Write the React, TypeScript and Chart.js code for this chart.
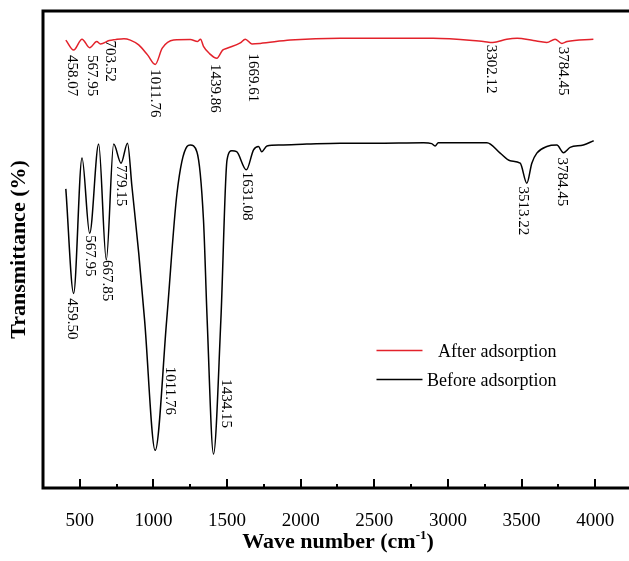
import React, { useEffect, useRef } from "react";
import { Chart, registerables } from "chart.js";

Chart.register(...registerables);

// ---- data ----
const seriesNames = ["After adsorption", "Before adsorption"];
const seriesColors = ["#e3222b", "#000000"];

const wnAfter = [405, 458, 515, 567, 615, 640, 700, 740, 800, 843, 900, 960, 1012, 1060, 1137, 1250, 1300, 1320, 1340, 1380, 1431, 1470, 1500, 1590, 1624, 1669, 1725, 1929, 2268, 2900, 3241, 3305, 3400, 3470, 3580, 3672, 3728, 3774, 3810, 3988];
const tAfter = [93.9, 91.8, 94.1, 92.3, 93.6, 93.1, 93.8, 94.0, 94.2, 93.9, 92.9, 90.8, 88.8, 92.2, 93.9, 94.0, 93.6, 94.1, 92.6, 91.1, 90.1, 91.8, 92.2, 93.3, 94.1, 93.1, 93.2, 93.9, 94.3, 94.3, 93.6, 93.4, 94.1, 94.3, 93.8, 93.4, 94.1, 93.2, 93.6, 94.1];

const wnBefore = [405, 458, 515, 567, 628, 680, 730, 780, 824, 854, 900, 940, 1012, 1090, 1160, 1228, 1250, 1295, 1340, 1365, 1408, 1458, 1500, 1533, 1565, 1631, 1680, 1714, 1735, 1771, 1862, 2042, 2269, 2500, 2835, 2890, 2913, 2935, 3265, 3355, 3423, 3491, 3536, 3570, 3604, 3672, 3740, 3785, 3830, 3920, 3990];
const tBefore = [62.7, 40.8, 69.2, 53.4, 72.1, 47.8, 72.1, 68.1, 72.3, 63.2, 49.3, 35.2, 7.9, 35.2, 61.8, 71.6, 71.9, 70.5, 56.2, 35.2, 7.1, 35.2, 68.8, 70.7, 70.5, 66.7, 70.9, 71.6, 70.5, 71.7, 71.9, 72.1, 72.3, 72.3, 72.4, 72.2, 71.7, 72.4, 72.4, 70.2, 68.6, 68.1, 63.9, 68.1, 70.2, 71.6, 71.9, 70.3, 71.4, 71.9, 72.8];

// peak annotations (text, anchor wavenumber, anchor transmittance)
const afterPeakText = ["458.07", "567.95", "703.52", "1011.76", "1439.86", "1669.61", "3302.12", "3784.45"];
const afterPeakX = [447, 583, 707, 1013, 1420, 1676, 3292, 3778];
const afterPeakY = [90.8, 90.8, 93.8, 87.8, 88.9, 91.1, 92.9, 92.5];

const beforePeakText = ["459.50", "567.95", "667.85", "779.15", "1011.76", "1434.15", "1631.08", "3513.22", "3784.45"];
const beforePeakX = [447, 571, 685, 780, 1114, 1493, 1635, 3513, 3774];
const beforePeakY = [39.8, 53.0, 47.8, 67.7, 25.4, 22.8, 66.3, 63.2, 69.3];

const xTicks = [500, 1000, 1500, 2000, 2500, 3000, 3500, 4000];
const xMinorTicks = [750, 1250, 1750, 2250, 2750, 3250, 3750];
const xMin = 250;
const xMax = 4230;

const xTitle = "Wave number (cm";
const xTitleSup = "-1";
const xTitleEnd = ")";
const yTitle = "Transmittance (%)";

const SERIF = "'Liberation Serif', 'Times New Roman', serif";

const decorPlugin = {
  id: "decor",
  afterDatasetsDraw(chart: any) {
    const ctx = chart.ctx as CanvasRenderingContext2D;
    const area = chart.chartArea;
    const xs = chart.scales.x;
    const ys = chart.scales.y;
    ctx.save();

    // frame: top, left, bottom
    ctx.strokeStyle = "#000";
    ctx.lineWidth = 3;
    ctx.beginPath();
    ctx.moveTo(area.right + 2, area.top);
    ctx.lineTo(area.left, area.top);
    ctx.lineTo(area.left, area.bottom);
    ctx.lineTo(area.right + 2, area.bottom);
    ctx.stroke();

    // inward ticks
    ctx.lineWidth = 2;
    ctx.beginPath();
    xTicks.forEach((v) => {
      const px = Math.round(xs.getPixelForValue(v));
      ctx.moveTo(px, area.bottom);
      ctx.lineTo(px, area.bottom - 9);
    });
    xMinorTicks.forEach((v) => {
      const px = Math.round(xs.getPixelForValue(v));
      ctx.moveTo(px, area.bottom);
      ctx.lineTo(px, area.bottom - 4);
    });
    ctx.stroke();

    // peak annotations
    ctx.fillStyle = "#000";
    ctx.font = `15px ${SERIF}`;
    ctx.textAlign = "left";
    ctx.textBaseline = "middle";
    const drawLabels = (texts: string[], xv: number[], yv: number[]) => {
      texts.forEach((t, i) => {
        const px = xs.getPixelForValue(xv[i]);
        const py = ys.getPixelForValue(yv[i]);
        ctx.save();
        ctx.translate(px, py);
        ctx.rotate(Math.PI / 2);
        ctx.fillText(t, 0, 0);
        ctx.restore();
      });
    };
    drawLabels(afterPeakText, afterPeakX, afterPeakY);
    drawLabels(beforePeakText, beforePeakX, beforePeakY);

    // legend
    const legX = xs.getPixelForValue(2515);
    const legY0 = ys.getPixelForValue(28.8);
    ctx.font = `18px ${SERIF}`;
    ctx.textBaseline = "middle";
    chart.data.datasets.forEach((ds: any, i: number) => {
      const y = legY0 + i * 29;
      ctx.strokeStyle = ds.borderColor;
      ctx.lineWidth = 1.5;
      ctx.beginPath();
      ctx.moveTo(legX, y);
      ctx.lineTo(legX + 46, y);
      ctx.stroke();
      ctx.fillStyle = "#000";
      ctx.textAlign = "right";
      ctx.fillText(ds.label, legX + 180, y + 2);
    });

    // x title with superscript
    ctx.fillStyle = "#000";
    ctx.textAlign = "left";
    ctx.textBaseline = "alphabetic";
    const big = `bold 22px ${SERIF}`;
    const small = `bold 13px ${SERIF}`;
    ctx.font = big;
    const w1 = ctx.measureText(xTitle).width;
    const w3 = ctx.measureText(xTitleEnd).width;
    ctx.font = small;
    const w2 = ctx.measureText(xTitleSup).width;
    const total = w1 + w2 + w3;
    const cx = 338;
    let sx = cx - total / 2;
    const by = 548;
    ctx.font = big;
    ctx.fillText(xTitle, sx, by);
    sx += w1;
    ctx.font = small;
    ctx.fillText(xTitleSup, sx, by - 9);
    sx += w2;
    ctx.font = big;
    ctx.fillText(xTitleEnd, sx, by);

    // y title
    ctx.save();
    ctx.translate(19, (area.top + area.bottom) / 2);
    ctx.rotate(-Math.PI / 2);
    ctx.font = `bold 22px ${SERIF}`;
    ctx.textAlign = "center";
    ctx.textBaseline = "middle";
    ctx.fillText(yTitle, 0, 0);
    ctx.restore();

    ctx.restore();
  },
};

export default function App() {
  const ref = useRef<HTMLCanvasElement | null>(null);

  useEffect(() => {
    document.body.style.margin = "0";
    document.body.style.overflow = "hidden";
    const canvas = ref.current!;
    const chart = new Chart(canvas, {
      type: "line",
      data: {
        datasets: [
          {
            label: seriesNames[0],
            data: wnAfter.map((x, i) => ({ x, y: tAfter[i] })),
            borderColor: seriesColors[0],
            borderWidth: 1.5,
            pointRadius: 0,
            fill: false,
            cubicInterpolationMode: "monotone",
          },
          {
            label: seriesNames[1],
            data: wnBefore.map((x, i) => ({ x, y: tBefore[i] })),
            borderColor: seriesColors[1],
            borderWidth: 1.5,
            pointRadius: 0,
            fill: false,
            cubicInterpolationMode: "monotone",
          },
        ],
      },
      options: {
        responsive: false,
        animation: false,
        layout: { padding: { top: 11, left: 43, right: 0, bottom: 0 } },
        plugins: { legend: { display: false }, tooltip: { enabled: false } },
        scales: {
          x: {
            type: "linear",
            min: xMin,
            max: xMax,
            afterBuildTicks: (s: any) => {
              s.ticks = xTicks.map((v) => ({ value: v }));
            },
            afterFit: (s: any) => {
              s.height = 73;
              s.paddingLeft = 0;
              s.paddingRight = 0;
            },
            grid: { display: false, drawTicks: false },
            border: { display: false },
            ticks: {
              color: "#000",
              font: { family: SERIF, size: 19 },
              padding: 22,
              maxRotation: 0,
              autoSkip: false,
              callback: (v: any) => String(v),
            },
          },
          y: {
            display: false,
            min: 0,
            max: 100,
          },
        },
      },
      plugins: [decorPlugin],
    } as any);
    return () => chart.destroy();
  }, []);

  return (
    <div style={{ width: 629, height: 561 }}>
      <canvas ref={ref} width={629} height={561} style={{ display: "block" }} />
    </div>
  );
}
